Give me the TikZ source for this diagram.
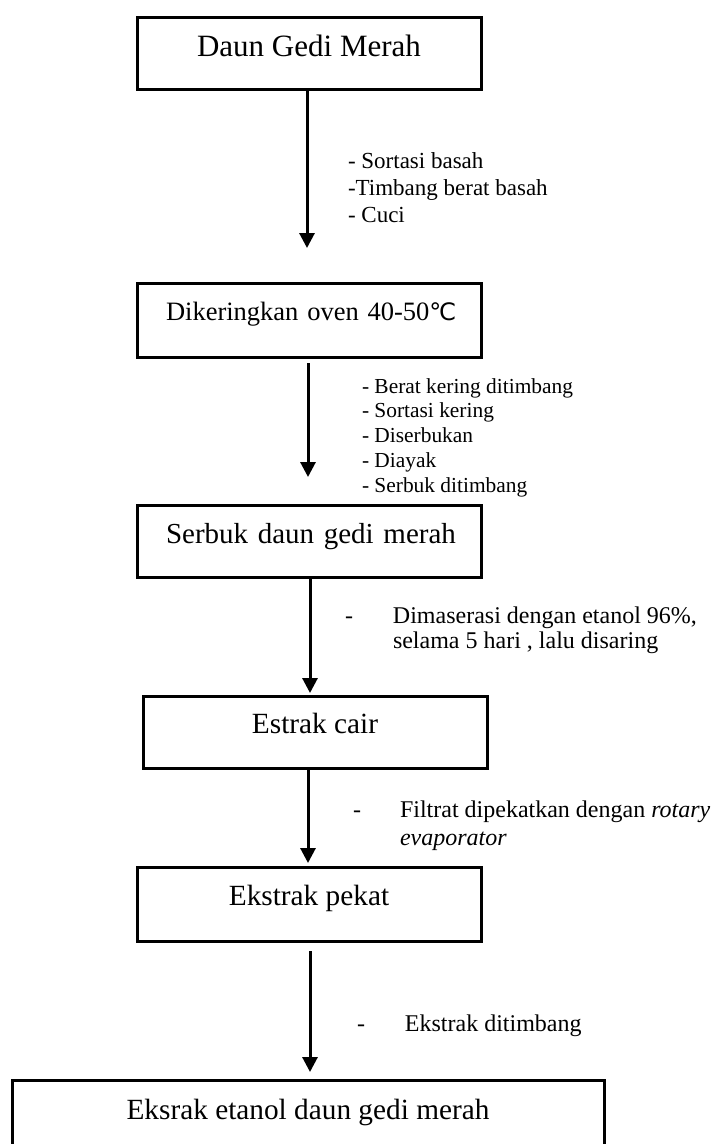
\documentclass[tikz,border=0pt]{standalone}
\usepackage{fontspec}
\setmainfont{Liberation Serif}
\newfontfamily\degfont{DejaVu Sans}
\usetikzlibrary{arrows.meta}
\begin{document}
\begin{tikzpicture}[x=1pt,y=-1pt,
  box/.style={draw, line width=3pt, inner sep=0pt, outer sep=0pt},
  arr/.style={line width=3pt, -{Triangle[length=15pt,width=15pt]}},
  lbl/.style={inner sep=0pt, outer sep=0pt, align=left, anchor=base west}]
\clip (0,0) rectangle (715,1144);
\fill[white] (0,0) rectangle (715,1144);
% boxes
\node[box, minimum width=344pt, text height=39pt, text depth=33pt, anchor=base,
      font=\fontsize{31}{31}\selectfont] (b1) at (309,56) {Daun Gedi Merah};
\node[box, text width=286pt, inner xsep=29pt, align=left, text height=37pt, text depth=37pt,
      anchor=base west, font=\fontsize{26.5}{26.5}\selectfont] (b2) at (137,320) {\mbox{Dikeringkan oven 40-50{\degfont\fontsize{24}{24}\selectfont ℃}}};
\node[box, text width=286pt, inner xsep=29pt, align=left, text height=38pt, text depth=34pt,
      anchor=base west, font=\fontsize{29}{29}\selectfont] (b3) at (137,543) {\mbox{Serbuk daun gedi merah}};
\node[box, minimum width=344pt, text height=37pt, text depth=35pt, anchor=base,
      font=\fontsize{29.3}{29.3}\selectfont] (b4) at (315,733) {Estrak cair};
\node[box, minimum width=344pt, text height=38pt, text depth=36pt, anchor=base,
      font=\fontsize{29.3}{29.3}\selectfont] (b5) at (309,905) {Ekstrak pekat};
\node[box, minimum width=592pt, text height=39pt, text depth=61pt, anchor=base,
      font=\fontsize{29.3}{29.3}\selectfont] (b6) at (308,1119) {Eksrak etanol daun gedi merah};
% arrow ends
\coordinate (t1) at (307,248);
\coordinate (s2) at (308,363);
\coordinate (t2) at (308,477);
\coordinate (t3) at (310,693);
\coordinate (t4) at (308,863);
\coordinate (s5) at (310,951);
\coordinate (t5) at (310,1072);
\draw[arr] (b1.south -| t1) -- (t1);
\draw[arr] (s2) -- (t2);
\draw[arr] (b3.south -| t3) -- (t3);
\draw[arr] (b4.south -| t4) -- (t4);
\draw[arr] (s5) -- (t5);
% labels (anchor base = baseline of last line)
\node[lbl, font=\fontsize{23}{27}\selectfont] (l1) at (348,222)
  {- Sortasi basah\\-Timbang berat basah\\- Cuci};
\node[lbl, font=\fontsize{21.4}{24.75}\selectfont] (l2) at (362,492)
  {- Berat kering ditimbang\\- Sortasi kering\\- Diserbukan\\- Diayak\\- Serbuk ditimbang};
\node[lbl, font=\fontsize{24}{25}\selectfont] (l3) at (393,648)
  {\llap{-\hspace{40pt}}Dimaserasi dengan etanol 96\%,\\selama 5 hari , lalu disaring};
\node[lbl, font=\fontsize{24}{28}\selectfont] (l4) at (400,845)
  {\llap{-\hspace{39pt}}Filtrat dipekatkan dengan \textit{rotary}\\\textit{evaporator}};
\node[lbl, font=\fontsize{24}{24}\selectfont] (l5) at (405,1031)
  {\llap{-\hspace{40pt}}Ekstrak ditimbang};
\end{tikzpicture}
\end{document}
